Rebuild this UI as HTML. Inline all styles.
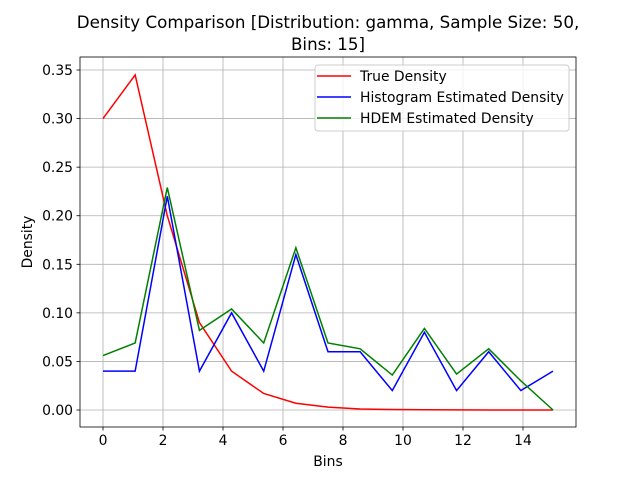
<!DOCTYPE html>
<html><head><meta charset="utf-8"><style>body{margin:0;background:#fff}svg{font-family:"DejaVu Sans","Liberation Sans",sans-serif}</style></head>
<body>
<svg id="c" width="640" height="480"></svg>
<script>
const xs=[0,1.0714,2.1429,3.2143,4.2857,5.3571,6.4286,7.5,8.5714,9.6429,10.7143,11.7857,12.8571,13.9286,15];
const trueDensity=[0.30,0.345,0.20,0.09,0.04,0.017,0.007,0.003,0.001,0.0005,0.0003,0.0001,0,0,0];
const histDensity=[0.04,0.04,0.22,0.04,0.10,0.04,0.16,0.06,0.06,0.02,0.08,0.02,0.06,0.02,0.04];
const hdemDensity=[0.056,0.069,0.229,0.082,0.104,0.069,0.167,0.069,0.063,0.036,0.084,0.037,0.063,0.030,0.0];
const xTicks=[0,2,4,6,8,10,12,14];
const yTicks=[0,0.05,0.10,0.15,0.20,0.25,0.30,0.35];
const L=80,R=576,T=57,B=427;
const x0=-0.767,x1=15.767,y0=-0.0175,y1=0.3634;
const X=v=>L+(v-x0)/(x1-x0)*(R-L);
const Y=v=>B-(v-y0)/(y1-y0)*(B-T);
const s=document.getElementById('c');const NS='http://www.w3.org/2000/svg';
function mk(t,a,p){const e=document.createElementNS(NS,t);for(const k in a)e.setAttribute(k,a[k]);(p||s).appendChild(e);return e;}
mk('rect',{x:L,y:T,width:R-L,height:B-T,fill:'#fff'});
xTicks.forEach(v=>{const g=mk('line',{x1:X(v),x2:X(v),y1:T,y2:B,stroke:'#b0b0b0','stroke-width':0.8});

mk('line',{x1:X(v),x2:X(v),y1:B,y2:B+3.5,stroke:'#000','stroke-width':0.8});
const t=mk('text',{x:X(v),y:B+18,'text-anchor':'middle','font-size':13.9});t.textContent=v;
});
yTicks.forEach(v=>{const g=mk('line',{x1:L,x2:R,y1:Y(v),y2:Y(v),stroke:'#b0b0b0','stroke-width':0.8});

mk('line',{x1:L-3.5,x2:L,y1:Y(v),y2:Y(v),stroke:'#000','stroke-width':0.8});
const t=mk('text',{x:L-7,y:Y(v)+5,'text-anchor':'end','font-size':13.9});t.textContent=v.toFixed(2);
});
function line(d,c,n){const p=mk('polyline',{points:d.map((v,i)=>X(xs[i])+','+Y(v)).join(' '),fill:'none',stroke:c,'stroke-width':1.5});
}
line(trueDensity,'#ff0000','true-density-line');
line(histDensity,'#0000ff','histogram-density-line');
line(hdemDensity,'#008000','hdem-density-line');
const f=mk('rect',{x:L,y:T,width:R-L,height:B-T,fill:'none',stroke:'#000','stroke-width':0.8});

const lg=mk('g',{});
mk('rect',{x:315,y:65,width:254,height:66,rx:3,fill:'#fff','fill-opacity':0.8,stroke:'#ccc'},lg);
[['True Density','#ff0000'],['Histogram Estimated Density','#0000ff'],['HDEM Estimated Density','#008000']].forEach((e,i)=>{
const yy=76+i*21;mk('line',{x1:317,x2:351,y1:yy,y2:yy,stroke:e[1],'stroke-width':1.5},lg);
const t=mk('text',{x:360,y:yy+5,'font-size':13.9},lg);t.textContent=e[0];
});
const t1=mk('text',{x:328,y:28,'text-anchor':'middle','font-size':16.7});t1.textContent='Density Comparison [Distribution: gamma, Sample Size: 50,';

const t2=mk('text',{x:328,y:50,'text-anchor':'middle','font-size':16.7});t2.textContent='Bins: 15]';

const xl=mk('text',{x:328,y:466,'text-anchor':'middle','font-size':13.9});xl.textContent='Bins';

const yl=mk('text',{x:32,y:242,'text-anchor':'middle','font-size':13.9,transform:'rotate(-90 32 242)'});yl.textContent='Density';

</script>
</body></html>
